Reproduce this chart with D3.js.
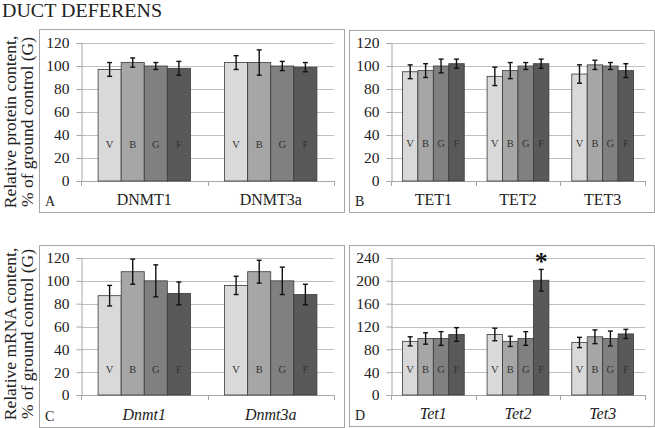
<!DOCTYPE html>
<html><head><meta charset="utf-8">
<script src="https://cdn.jsdelivr.net/npm/d3@7"></script>
<style>body{margin:0;background:#fff}svg{display:block}</style>
</head><body>
<svg id="chart" width="655" height="428"></svg>
<script>
// ---- data ----
const series = ["V", "B", "G", "F"];
const seriesColors = ["#d9d9d9", "#a6a6a6", "#808080", "#595959"];

const catsA = ["DNMT1", "DNMT3a"];
const valsA = [[97, 103, 100, 98], [103, 103, 100, 99]];
const errsA = [[6, 4, 3, 6], [6, 11, 4, 4]];

const catsB = ["TET1", "TET2", "TET3"];
const valsB = [[95, 96, 100, 102], [91, 96, 100, 102], [93, 101, 100, 96]];
const errsB = [[6, 6, 6, 4], [8, 7, 3, 4], [8, 4, 3, 6]];

const catsC = ["Dnmt1", "Dnmt3a"];
const valsC = [[87, 108, 100, 89], [96, 108, 100, 88]];
const errsC = [[9, 11, 14, 10], [8, 10, 12, 9]];

const catsD = ["Tet1", "Tet2", "Tet3"];
const valsD = [[94, 99, 99, 106], [106, 94, 99, 201], [92, 102, 99, 107]];
const errsD = [[8, 10, 12, 12], [11, 9, 12, 19], [9, 12, 13, 8]];

const ticksTop = [0, 20, 40, 60, 80, 100, 120];
const ticksD = [0, 40, 80, 120, 160, 200, 240];

const title = "DUCT DEFERENS";
const yLabelTop = ["Relative protein content,", "% of ground control (G)"];
const yLabelBottom = ["Relative mRNA content,", "% of ground control (G)"];
const starMark = { panel: "D", cat: "Tet2", series: "F", text: "*" };

// ---- layout ----
const svg = d3.select("#chart");
const serif = "'Liberation Serif', 'Times New Roman', serif";

const panels = [
  { id: "A", cats: catsA, vals: valsA, errs: errsA, ticks: ticksTop, italic: false,
    box: [39, 29, 344, 212], plot: [81, 43, 334, 181], letterOff: 37 },
  { id: "B", cats: catsB, vals: valsB, errs: errsB, ticks: ticksTop, italic: false,
    box: [349, 30, 654, 212], plot: [391, 43, 645, 181], letterOff: 38 },
  { id: "C", cats: catsC, vals: valsC, errs: errsC, ticks: ticksTop, italic: true,
    box: [39, 245, 344, 427], plot: [81, 258, 334, 395], letterOff: 26 },
  { id: "D", cats: catsD, vals: valsD, errs: errsD, ticks: ticksD, italic: true,
    box: [349, 245, 654, 426], plot: [391, 258, 645, 395], letterOff: 26 }
];

svg.append("text").attr("x", 2).attr("y", 17)
  .attr("font-family", serif).attr("font-size", 19).attr("fill", "#222")
  .attr("textLength", 160).attr("lengthAdjust", "spacingAndGlyphs")
  .text(title);

function yLabel(lines, cy) {
  const g = svg.append("g");
  lines.forEach((t, i) => {
    g.append("text")
      .attr("transform", `translate(${16 + i * 17},${cy}) rotate(-90)`)
      .attr("text-anchor", "middle")
      .attr("font-family", serif).attr("font-size", 17.5).attr("fill", "#222")
      .text(t);
  });
}
yLabel(yLabelTop, 122);
yLabel(yLabelBottom, 334);

panels.forEach(p => {
  const g = svg.append("g");
  const [bx0, by0, bx1, by1] = p.box;
  const [px0, py0, px1, py1] = p.plot;
  g.append("rect").attr("x", bx0 + 0.5).attr("y", by0 + 0.5)
    .attr("width", bx1 - bx0).attr("height", by1 - by0)
    .attr("fill", "none").attr("stroke", "#a6a6a6").attr("stroke-width", 1);

  const y = d3.scaleLinear().domain([p.ticks[0], p.ticks[p.ticks.length - 1]]).range([py1, py0]);
  const x = d3.scaleBand().domain(p.cats).range([px0, px1]).padding(0);
  const xs = d3.scaleBand().domain(series).range([0, x.bandwidth()]).paddingInner(0).paddingOuter(0.74);
  const color = d3.scaleOrdinal().domain(series).range(seriesColors);

  // gridlines
  g.selectAll(".grid").data(p.ticks.slice(1)).join("line")
    .attr("x1", px0).attr("x2", px1)
    .attr("y1", d => Math.round(y(d)) + 0.5).attr("y2", d => Math.round(y(d)) + 0.5)
    .attr("stroke", "#bfbfbf").attr("stroke-width", 1);

  // y axis
  const yAxis = d3.axisLeft(y).tickValues(p.ticks).tickSize(5).tickPadding(7);
  const ya = g.append("g").attr("transform", `translate(${px0 + 0.5},0)`).call(yAxis);
  ya.select(".domain").attr("stroke", "#a6a6a6");
  ya.selectAll(".tick line").attr("stroke", "#a6a6a6");
  ya.selectAll(".tick text").attr("font-family", serif).attr("font-size", 15.5).attr("fill", "#222");

  // x axis line + ticks at band boundaries
  g.append("line").attr("x1", px0).attr("x2", px1)
    .attr("y1", Math.round(py1) + 0.5).attr("y2", Math.round(py1) + 0.5)
    .attr("stroke", "#a6a6a6");
  const bounds = p.cats.map(c => x(c)).concat([px1]);
  g.selectAll(".xt").data(bounds).join("line")
    .attr("x1", d => Math.round(d) + 0.5).attr("x2", d => Math.round(d) + 0.5)
    .attr("y1", py1).attr("y2", py1 + 5).attr("stroke", "#a6a6a6");

  // bars
  p.cats.forEach((c, ci) => {
    series.forEach((s, si) => {
      const v = p.vals[ci][si], e = p.errs[ci][si];
      const bx = x(c) + xs(s), bw = xs.bandwidth();
      g.append("rect").attr("x", bx).attr("y", y(v))
        .attr("width", bw).attr("height", y(0) - y(v))
        .attr("fill", color(s)).attr("stroke", "#3a3a3a").attr("stroke-width", 0.8);
      g.append("text").attr("x", bx + bw / 2).attr("y", py1 - p.letterOff + 4)
        .attr("text-anchor", "middle").attr("font-family", serif)
        .attr("font-size", 10.5).attr("fill", "#333").text(s);
      const cx = bx + bw / 2;
      g.append("line").attr("x1", cx).attr("x2", cx).attr("y1", y(v + e)).attr("y2", y(v - e))
        .attr("stroke", "#111").attr("stroke-width", 1.4);
      [v + e, v - e].forEach(w => {
        g.append("line").attr("x1", cx - 2.5).attr("x2", cx + 2.5)
          .attr("y1", y(w)).attr("y2", y(w)).attr("stroke", "#111").attr("stroke-width", 1.4);
      });
      if (starMark.panel === p.id && starMark.cat === c && starMark.series === s) {
        g.append("text").attr("x", cx).attr("y", y(v + e) + 1)
          .attr("text-anchor", "middle").attr("font-family", serif)
          .attr("font-size", 26).attr("font-weight", "bold").attr("fill", "#111")
          .text(starMark.text);
      }
    });
    g.append("text").attr("x", x(c) + x.bandwidth() / 2).attr("y", by1 - 7)
      .attr("text-anchor", "middle").attr("font-family", serif).attr("font-size", 16)
      .attr("font-style", p.italic ? "italic" : "normal").attr("fill", "#222").text(c);
  });

  g.append("text").attr("x", bx0 + 6).attr("y", by1 - 6)
    .attr("font-family", serif).attr("font-size", 14).attr("fill", "#222").text(p.id);
});
</script>
</body></html>
